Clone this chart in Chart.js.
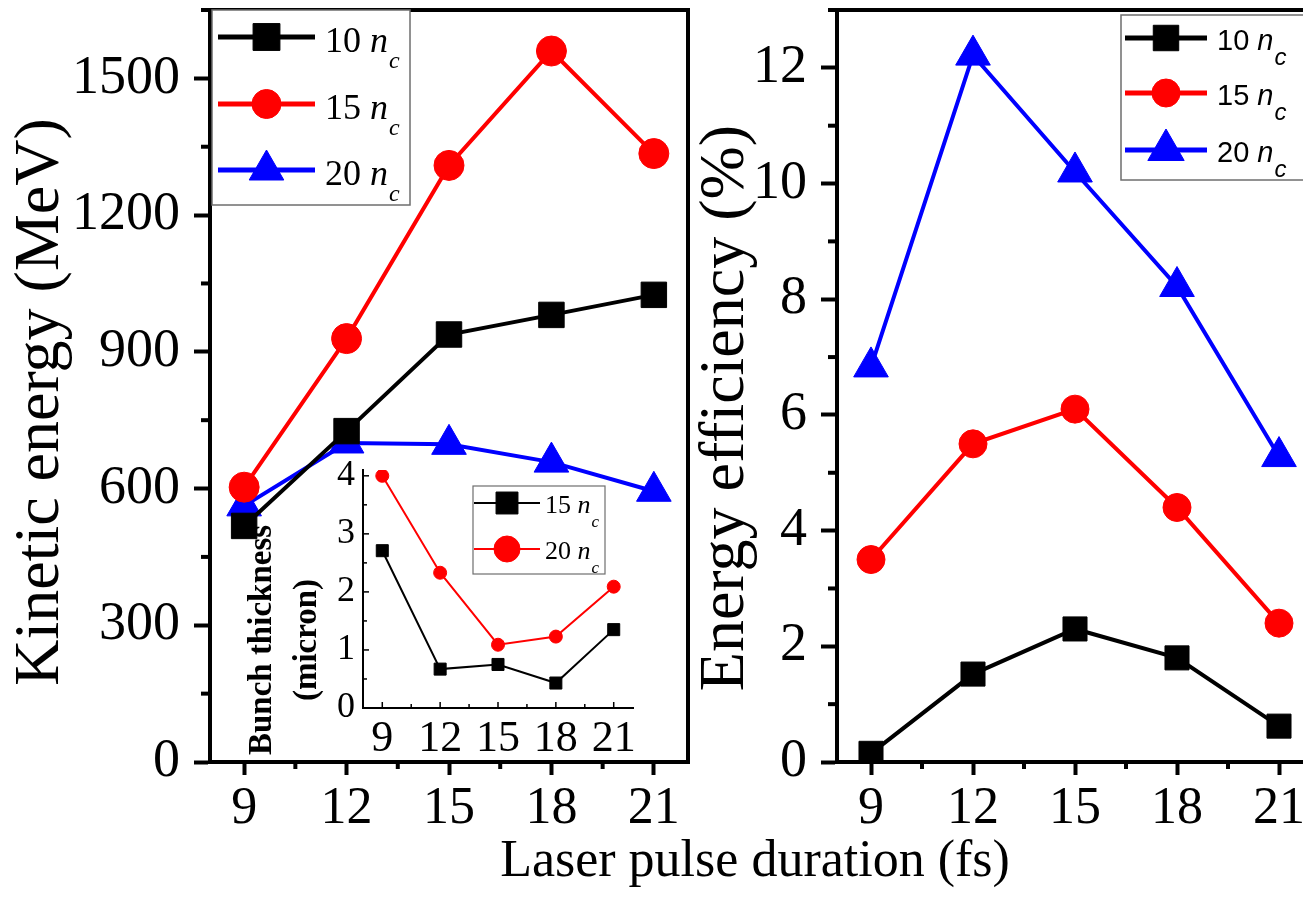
<!DOCTYPE html>
<html>
<head>
<meta charset="utf-8">
<script src="https://cdn.jsdelivr.net/npm/chart.js@4.4.1/dist/chart.umd.min.js"></script>
<style>
  html, body { margin: 0; padding: 0; background: #fff; overflow: hidden; }
  #wrap { position: relative; width: 1303px; height: 920px; overflow: hidden; }
  canvas { position: absolute; }
  #energy { left: 0; top: 0; }
  #efficiency { left: 693px; top: 0; }
  #thickness { left: 240px; top: 460px; }
  #xtitle {
    position: absolute; left: 455px; width: 600px; top: 833px;
    text-align: center; font: 52px/52px "Liberation Serif", "Times New Roman", serif; color: #000;
  }
</style>
</head>
<body>
<div id="wrap">
  <canvas id="energy" width="698" height="920"></canvas>
  <canvas id="efficiency" width="630" height="920"></canvas>
  <canvas id="thickness" width="400" height="310"></canvas>
  <div id="xtitle">Laser pulse duration (fs)</div>
</div>
<script>
// laser pulse duration (fs)
const durations = [9, 12, 15, 18, 21];
const densities = ['10', '15', '20'];
const insetDensities = ['15', '20'];

// kinetic energy (MeV)
const energy10 = [518, 726, 938, 981, 1025];
const energy15 = [603, 929, 1309, 1560, 1335];
const energy20 = [562, 700, 697, 658, 594];

// energy efficiency (%)
const efficiency10 = [0.15, 1.52, 2.3, 1.8, 0.62];
const efficiency15 = [3.5, 5.5, 6.1, 4.4, 2.4];
const efficiency20 = [6.83, 12.22, 10.2, 8.22, 5.28];

// bunch thickness (micron), inset
const thickness15 = [2.71, 0.67, 0.75, 0.43, 1.35];
const thickness20 = [4.0, 2.33, 1.09, 1.23, 2.09];

const durationTicks = [9, 12, 15, 18, 21];
const energyTicks = [0, 300, 600, 900, 1200, 1500];
const efficiencyTicks = [0, 2, 4, 6, 8, 10, 12];
const thicknessTicks = [0, 1, 2, 3, 4];

const SERIF = '"Liberation Serif", "Times New Roman", serif';
const SANS = '"Liberation Sans", Arial, sans-serif';
const colors = ['#000000', '#ff0000', '#0000ff'];
const styles = ['rect', 'circle', 'triangle'];

function points(values) {
    return durations.map((d, i) => ({ x: d, y: values[i] }));
}

function minors(ticks, min, max) {
    const step = ticks[1] - ticks[0];
    const out = [];
    for (let v = ticks[0] - step / 2; v <= max + 1e-9; v += step) {
        if (v >= min - 1e-9) out.push(v);
    }
    return out;
}

function marker(ctx, style, r, x, y) {
    if (Chart.helpers && Chart.helpers.drawPoint) {
        Chart.helpers.drawPoint(ctx, { pointStyle: style, radius: r, rotation: 0, borderWidth: 1 }, x, y);
        return;
    }
    ctx.beginPath();
    if (style === 'rect') {
        const s = r * Math.SQRT1_2;
        ctx.rect(x - s, y - s, 2 * s, 2 * s);
    } else if (style === 'circle') {
        ctx.arc(x, y, r, 0, Math.PI * 2);
    } else {
        ctx.moveTo(x, y - r);
        ctx.lineTo(x + r * Math.sin(Math.PI * 2 / 3), y + r / 2);
        ctx.lineTo(x - r * Math.sin(Math.PI * 2 / 3), y + r / 2);
        ctx.closePath();
    }
    ctx.fill();
    ctx.stroke();
}

// minor ticks, inward ticks and the top/right frame
const axisDecor = {
    id: 'axisDecor',
    afterDraw(chart, args, opts) {
        const ctx = chart.ctx;
        const area = chart.chartArea;
        ctx.save();
        ctx.strokeStyle = '#000';
        (opts.marks || []).forEach(m => {
            const scale = chart.scales[m.axis];
            ctx.lineWidth = m.width;
            m.values.forEach(v => {
                const p = scale.getPixelForValue(v);
                ctx.beginPath();
                if (scale.isHorizontal()) {
                    ctx.moveTo(p, area.bottom);
                    ctx.lineTo(p, area.bottom + m.dir * m.len);
                } else {
                    ctx.moveTo(area.left, p);
                    ctx.lineTo(area.left - m.dir * m.len, p);
                }
                ctx.stroke();
            });
        });
        if (opts.frame) {
            ctx.lineWidth = opts.frame;
            ctx.beginPath();
            ctx.moveTo(area.left, area.top);
            ctx.lineTo(area.right, area.top);
            if (opts.rightSide) ctx.lineTo(area.right, area.bottom + opts.frame / 2);
            ctx.stroke();
        }
        ctx.restore();
    }
};

// legend with "10 n_c" style labels
const ncLegend = {
    id: 'ncLegend',
    afterDraw(chart, args, o) {
        if (!o.box) return;
        const ctx = chart.ctx;
        const [bx, by, bw, bh] = o.box;
        ctx.save();
        ctx.fillStyle = '#fff';
        ctx.fillRect(bx, by, bw, bh);
        ctx.strokeStyle = '#6e6e6e';
        ctx.lineWidth = o.boxLine;
        ctx.strokeRect(bx, by, bw, bh);
        chart.data.datasets.forEach((ds, i) => {
            const y = o.rows[i];
            ctx.strokeStyle = ds.borderColor;
            ctx.fillStyle = ds.borderColor;
            ctx.lineWidth = o.lineWidth;
            ctx.beginPath();
            ctx.moveTo(o.line[0], y);
            ctx.lineTo(o.line[1], y);
            ctx.stroke();
            ctx.lineWidth = 1;
            marker(ctx, ds.pointStyle, o.radius[i], (o.line[0] + o.line[1]) / 2, y);

            const num = ds.label.split(' ')[0];
            const base = y + o.size * o.baseShift;
            let x = o.textX;
            ctx.fillStyle = '#000';
            ctx.textBaseline = 'alphabetic';
            ctx.textAlign = 'left';
            ctx.font = `${o.size}px ${o.family}`;
            ctx.fillText(num + ' ', x, base);
            x += ctx.measureText(num + ' ').width;
            ctx.font = `italic ${o.size}px ${o.family}`;
            ctx.fillText('n', x, base);
            x += ctx.measureText('n').width;
            ctx.font = `italic ${o.subSize}px ${o.family}`;
            ctx.fillText('c', x + 1, base + o.subDrop);
        });
        ctx.restore();
    }
};

// rotated axis labels (main y titles, two-line inset label)
const sideLabel = {
    id: 'sideLabel',
    afterDraw(chart, args, o) {
        if (!o.lines) return;
        const ctx = chart.ctx;
        ctx.save();
        ctx.fillStyle = '#000';
        ctx.font = `${o.weight || 'normal'} ${o.size}px ${SERIF}`;
        ctx.textAlign = 'center';
        ctx.textBaseline = 'middle';
        o.lines.forEach((t, i) => {
            ctx.save();
            ctx.translate(o.x[i], o.y);
            ctx.rotate(-Math.PI / 2);
            ctx.fillText(t, 0, 0);
            ctx.restore();
        });
        ctx.restore();
    }
};

Chart.register(axisDecor, ncLegend, sideLabel);

function setTicks(values) {
    return scale => { scale.ticks = values.map(v => ({ value: v })); };
}

function fitTo(size) {
    return scale => {
        if (scale.isHorizontal()) scale.height = size;
        else scale.width = size;
        scale.paddingTop = 0;
        scale.paddingBottom = 0;
        scale.paddingLeft = 0;
        scale.paddingRight = 0;
    };
}

function series(label, values, i, r, width) {
    return {
        label: label,
        data: points(values),
        borderColor: colors[i],
        backgroundColor: colors[i],
        borderWidth: width,
        pointStyle: styles[i],
        pointRadius: r,
        pointBackgroundColor: colors[i],
        pointBorderColor: colors[i],
        pointBorderWidth: 1,
        tension: 0
    };
}

function mainX() {
    return {
        type: 'linear', min: 8, max: 22,
        afterBuildTicks: setTicks(durationTicks),
        afterFit: fitTo(158),
        grid: { display: true, drawOnChartArea: false, drawTicks: true, tickLength: 13, tickWidth: 4, tickColor: '#000' },
        border: { display: true, width: 4, color: '#000' },
        ticks: { color: '#000', padding: 3, autoSkip: false, maxRotation: 0,
                 font: { family: SERIF, size: 52 }, callback: v => String(v) }
    };
}

function mainY(min, max, ticks, width) {
    return {
        type: 'linear', min: min, max: max,
        afterBuildTicks: setTicks(ticks),
        afterFit: fitTo(width),
        grid: { display: true, drawOnChartArea: false, drawTicks: true, tickLength: 16, tickWidth: 4, tickColor: '#000' },
        border: { display: true, width: 4, color: '#000' },
        ticks: { color: '#000', padding: 14, autoSkip: false,
                 font: { family: SERIF, size: 54 }, callback: v => String(v) }
    };
}

document.addEventListener('DOMContentLoaded', () => {
    main();
});

function main() {
    energyChart();
    efficiencyChart();
    thicknessChart();
}

function energyChart() {
    const ctx = document.querySelector('#energy').getContext('2d');
    new Chart(ctx, {
        type: 'line',
        data: {
            datasets: [
                series(`${densities[0]} nc`, energy10, 0, 18, 4),
                series(`${densities[1]} nc`, energy15, 1, 15, 4),
                series(`${densities[2]} nc`, energy20, 2, 20, 4)
            ]
        },
        options: {
            responsive: false,
            animation: false,
            layout: { autoPadding: false, padding: { left: 0, top: 10, right: 10, bottom: 0 } },
            scales: {
                x: mainX(),
                y: mainY(0, 1650, energyTicks, 210)
            },
            plugins: {
                legend: { display: false },
                tooltip: { enabled: false },
                axisDecor: {
                    frame: 4, rightSide: true,
                    marks: [
                        { axis: 'x', values: minors(durationTicks, 8, 22), len: 7, width: 4, dir: 1 },
                        { axis: 'y', values: minors(energyTicks, 0, 1650), len: 9, width: 4, dir: 1 }
                    ]
                },
                ncLegend: {
                    box: [212, 10, 198, 195], boxLine: 1.5,
                    rows: [37, 104, 170], line: [218, 315], lineWidth: 5,
                    radius: [19, 14.5, 20], textX: 325,
                    family: SERIF, size: 36, baseShift: 0.42, subSize: 24, subDrop: 16
                },
                sideLabel: {
                    lines: ['Kinetic energy (MeV)'], x: [41], y: 402, size: 64
                }
            }
        }
    });
}

function efficiencyChart() {
    const ctx = document.querySelector('#efficiency').getContext('2d');
    new Chart(ctx, {
        type: 'line',
        data: {
            datasets: [
                series(`${densities[0]} nc`, efficiency10, 0, 17, 4),
                series(`${densities[1]} nc`, efficiency15, 1, 14, 4),
                series(`${densities[2]} nc`, efficiency20, 2, 20, 4)
            ]
        },
        options: {
            responsive: false,
            animation: false,
            layout: { autoPadding: false, padding: { left: 0, top: 10, right: 10, bottom: 0 } },
            scales: {
                x: mainX(),
                y: mainY(0, 13, efficiencyTicks, 144)
            },
            plugins: {
                legend: { display: false },
                tooltip: { enabled: false },
                axisDecor: {
                    frame: 4, rightSide: false,
                    marks: [
                        { axis: 'x', values: minors(durationTicks, 8, 22), len: 7, width: 4, dir: 1 },
                        { axis: 'y', values: minors(efficiencyTicks, 0, 13), len: 9, width: 4, dir: 1 }
                    ]
                },
                ncLegend: {
                    box: [428, 15, 200, 165], boxLine: 1.5,
                    rows: [38, 93, 150], line: [432, 514], lineWidth: 5,
                    radius: [18, 14, 21], textX: 524,
                    family: SANS, size: 29, baseShift: 0.42, subSize: 24, subDrop: 15
                },
                sideLabel: {
                    lines: ['Energy efficiency (%)'], x: [33], y: 408, size: 64
                }
            }
        }
    });
}

function thicknessChart() {
    const ctx = document.querySelector('#thickness').getContext('2d');
    new Chart(ctx, {
        type: 'line',
        data: {
            datasets: [
                series(`${insetDensities[0]} nc`, thickness15, 0, 8.5, 2),
                series(`${insetDensities[1]} nc`, thickness20, 1, 6.5, 2)
            ]
        },
        options: {
            responsive: false,
            animation: false,
            layout: { autoPadding: false, padding: { left: 0, top: 10, right: 7, bottom: 0 } },
            scales: {
                x: {
                    type: 'linear', min: 8, max: 22,
                    afterBuildTicks: setTicks(durationTicks),
                    afterFit: fitTo(62),
                    grid: { display: false, drawTicks: false },
                    border: { display: true, width: 2, color: '#000' },
                    ticks: { color: '#000', padding: 5, autoSkip: false, maxRotation: 0,
                             font: { family: SERIF, size: 44 }, callback: v => String(v) }
                },
                y: {
                    type: 'linear', min: 0, max: 4.1,
                    afterBuildTicks: setTicks(thicknessTicks),
                    afterFit: fitTo(123),
                    grid: { display: false, drawTicks: false },
                    border: { display: true, width: 2, color: '#000' },
                    ticks: { color: '#000', padding: 8, autoSkip: false,
                             font: { family: SERIF, size: 36 }, callback: v => String(v) }
                }
            },
            plugins: {
                legend: { display: false },
                tooltip: { enabled: false },
                axisDecor: {
                    marks: [
                        { axis: 'x', values: durationTicks, len: 6, width: 1.5, dir: -1 },
                        { axis: 'x', values: minors(durationTicks, 8, 22), len: 4, width: 1.5, dir: -1 },
                        { axis: 'y', values: thicknessTicks, len: 6, width: 1.5, dir: -1 },
                        { axis: 'y', values: minors(thicknessTicks, 0, 4.1), len: 4, width: 1.5, dir: -1 }
                    ]
                },
                ncLegend: {
                    box: [233, 26, 132, 88], boxLine: 1.2,
                    rows: [43, 89], line: [234, 300], lineWidth: 2,
                    radius: [15.5, 13], textX: 305,
                    family: SERIF, size: 26, baseShift: 0.4, subSize: 17, subDrop: 14
                },
                sideLabel: {
                    lines: ['Bunch thickness', '(micron)'],
                    x: [22, 67], y: 180, size: 33, weight: 'bold'
                }
            }
        }
    });
}
</script>
</body>
</html>
